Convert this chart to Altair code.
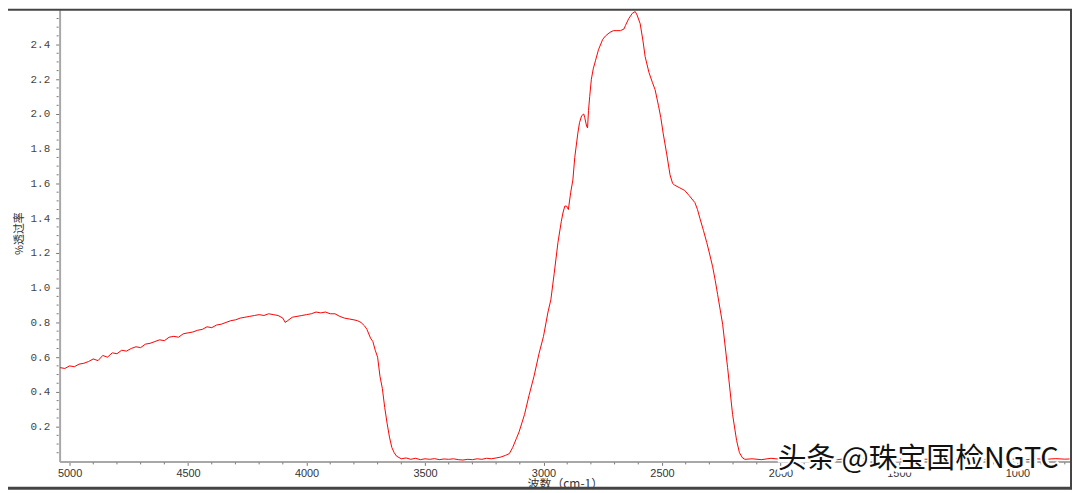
import altair as alt
import pandas as pd

# ---- data ----
wavenumber = [
    5040, 5020, 5000, 4980, 4960, 4940, 4920, 4900, 4880, 4860, 4840, 4820, 4800, 4780,
    4760, 4740, 4720, 4700, 4680, 4660, 4640, 4620, 4600, 4580, 4560, 4540, 4520, 4500,
    4480, 4460, 4440, 4420, 4400, 4380, 4360, 4340, 4320, 4300, 4280, 4260, 4240, 4220,
    4200, 4180, 4160, 4140, 4120, 4100, 4090, 4080, 4060, 4040, 4020, 4000, 3980, 3960,
    3940, 3920, 3900, 3880, 3860, 3840, 3820, 3800, 3785, 3770, 3755, 3745, 3730, 3720,
    3710, 3700, 3690, 3680, 3670, 3660, 3650, 3640, 3630, 3620, 3600,
    3580, 3560, 3540, 3520, 3500, 3480, 3460, 3440, 3420, 3400, 3380, 3360, 3340, 3320,
    3300, 3280, 3260, 3240, 3220, 3200, 3180, 3160, 3144,
    3130, 3115, 3103, 3080, 3061, 3040, 3019, 3000, 2981, 2969, 2955, 2939, 2925, 2918,
    2910, 2903, 2895, 2885, 2876, 2868, 2855, 2848, 2839, 2830, 2826, 2818, 2814, 2810,
    2805, 2798, 2790, 2780, 2768, 2750, 2738, 2720, 2705, 2690, 2675, 2660, 2654, 2640,
    2625, 2613, 2605, 2592, 2580, 2571, 2555, 2540, 2529, 2515, 2505, 2495, 2480, 2466,
    2455, 2446, 2425, 2404, 2385, 2361, 2350, 2340, 2325, 2311, 2300, 2286, 2275, 2265,
    2244, 2223, 2202, 2185, 2173, 2160, 2150,
    2120, 2080, 2040, 2000, 1960, 1920, 1880, 1840, 1800, 1760, 1720, 1680, 1640, 1600,
    1560, 1520, 1480, 1440, 1400, 1360, 1320, 1280, 1240, 1200, 1160, 1120, 1080, 1040,
    1000, 960, 920, 880, 840, 800, 780,
]
transmittance = [
    0.54, 0.535, 0.55, 0.545, 0.56, 0.565, 0.575, 0.59, 0.58, 0.61, 0.60, 0.625, 0.62, 0.64,
    0.635, 0.65, 0.66, 0.655, 0.675, 0.68, 0.69, 0.70, 0.695, 0.715, 0.72, 0.715, 0.735, 0.74,
    0.745, 0.755, 0.76, 0.775, 0.77, 0.785, 0.79, 0.80, 0.81, 0.815, 0.825, 0.83, 0.835, 0.84,
    0.845, 0.84, 0.85, 0.845, 0.84, 0.825, 0.80, 0.81, 0.83, 0.835, 0.84, 0.845, 0.85, 0.86,
    0.855, 0.86, 0.85, 0.85, 0.835, 0.825, 0.82, 0.815, 0.81, 0.80, 0.78, 0.76, 0.71, 0.69,
    0.64, 0.60, 0.49, 0.42, 0.31, 0.22, 0.14, 0.08, 0.05, 0.03, 0.015,
    0.02, 0.012, 0.018, 0.01, 0.015, 0.012, 0.016, 0.01, 0.014, 0.012, 0.015, 0.01, 0.008, 0.012,
    0.01, 0.015, 0.012, 0.018, 0.015, 0.02, 0.025, 0.035, 0.045,
    0.08, 0.13, 0.17, 0.27, 0.38, 0.49, 0.62, 0.72, 0.86, 0.93, 1.08, 1.26, 1.38, 1.43,
    1.47, 1.47, 1.45, 1.55, 1.62, 1.75, 1.89, 1.95, 1.99, 2.00, 1.98, 1.93, 1.92, 2.02,
    2.10, 2.20, 2.26, 2.31, 2.37, 2.43, 2.45, 2.47, 2.48, 2.48, 2.48, 2.49, 2.51, 2.55,
    2.58, 2.59, 2.57, 2.52, 2.42, 2.33, 2.24, 2.18, 2.14, 2.05, 1.98, 1.89, 1.77, 1.65,
    1.60, 1.59, 1.575, 1.56, 1.53, 1.49, 1.45, 1.40, 1.33, 1.26, 1.20, 1.12, 1.04, 0.96,
    0.79, 0.54, 0.27, 0.12, 0.05, 0.02, 0.012,
    0.015, 0.01, 0.018, 0.012, 0.015, 0.01, 0.017, 0.012, 0.015, 0.01, 0.016, 0.012, 0.018, 0.013,
    0.015, 0.01, 0.016, 0.012, 0.014, 0.01, 0.015, 0.012, 0.017, 0.013, 0.015, 0.01, 0.016, 0.012,
    0.014, 0.01, 0.015, 0.012, 0.016, 0.013, 0.014,
]

x_major = [5000, 4500, 4000, 3500, 3000, 2500, 2000, 1500, 1000]
x_minor = [v for v in range(4900, 799, -100) if v % 500 != 0]
y_major = [0.2, 0.4, 0.6, 0.8, 1.0, 1.2, 1.4, 1.6, 1.8, 2.0, 2.2, 2.4]
y_minor = [round(0.05 * i, 2) for i in range(1, 52) if i % 4 != 0]

watermark = ["头条 @珠宝国检NGTC"]

df = pd.DataFrame({"wn": wavenumber, "t": transmittance})

W, H = 1018, 455
x_scale = alt.Scale(domain=[778, 5042], reverse=True, nice=False, zero=False)
y_scale = alt.Scale(domain=[0, 2.6], nice=False, zero=False)

line = alt.Chart(df).mark_line(color="#ff0000", strokeWidth=1, clip=True).encode(
    x=alt.X(
        "wn:Q",
        scale=x_scale,
        axis=alt.Axis(
            values=x_major,
            format="d",
            title="波数（cm-1）",
            titleFont="Noto Sans CJK SC",
            titleFontSize=12,
            titleFontWeight="normal",
            titleColor="#333333",
            titleY=22,
            titleBaseline="middle",
            labelFont="Liberation Sans",
            labelFontSize=11,
            labelColor="#333333",
            labelPadding=2,
            tickSize=4,
            tickColor="#777777",
            domainColor="#a8a8a8",
            domainWidth=2,
            grid=False,
            labelFlush=False,
        ),
    ),
    y=alt.Y(
        "t:Q",
        scale=y_scale,
        axis=alt.Axis(
            values=y_major,
            format=".1f",
            title="%透过率",
            titleFont="Noto Sans CJK SC",
            titleFontSize=11,
            titleFontWeight="normal",
            titleColor="#333333",
            titleX=-40,
            titleY=225,
            titleAlign="center",
            titleBaseline="middle",
            labelFont="Liberation Mono",
            labelFontSize=11,
            labelColor="#444444",
            labelPadding=6,
            tickSize=4,
            tickColor="#777777",
            domainColor="#a8a8a8",
            domainWidth=2,
            grid=False,
        ),
    ),
)

xminor_df = pd.DataFrame({"wn": x_minor})
xminor = alt.Chart(xminor_df).mark_rule(color="#777777", strokeWidth=1).encode(
    x=alt.X("wn:Q", scale=x_scale),
    y=alt.value(H + 1),
    y2=alt.value(H + 3),
)

yminor_df = pd.DataFrame({"t": y_minor})
yminor = alt.Chart(yminor_df).mark_rule(color="#777777", strokeWidth=1).encode(
    y=alt.Y("t:Q", scale=y_scale),
    x=alt.value(-3),
    x2=alt.value(-1),
)

wm_df = pd.DataFrame({"label": watermark})
wm_halo = alt.Chart(wm_df).mark_text(
    font="Noto Sans CJK SC", fontSize=29, align="center", baseline="middle",
    color="white", stroke="white", strokeWidth=5,
).encode(x=alt.value(866), y=alt.value(454), text="label:N")
wm_text = alt.Chart(wm_df).mark_text(
    font="Noto Sans CJK SC", fontSize=29, align="center", baseline="middle",
    color="#111111",
).encode(x=alt.value(865), y=alt.value(453), text="label:N")

# screenshot border (top, right, bottom)
border_top = alt.Chart(wm_df).mark_rule(color="#444444", strokeWidth=2).encode(
    x=alt.value(-52), x2=alt.value(W + 2), y=alt.value(0)
)
border_right = alt.Chart(wm_df).mark_rule(color="#444444", strokeWidth=2).encode(
    x=alt.value(W + 1), y=alt.value(0), y2=alt.value(H + 28)
)
border_bottom = alt.Chart(wm_df).mark_rule(color="#444444", strokeWidth=3).encode(
    x=alt.value(-52), x2=alt.value(W + 2), y=alt.value(H + 27)
)

chart = (
    alt.layer(line, xminor, yminor, wm_halo, wm_text, border_top, border_right, border_bottom)
    .properties(
        width=W,
        height=H,
        autosize=alt.AutoSizeParams(type="none"),
        padding={"left": 52, "top": 0, "right": 2, "bottom": 28},
        background="white",
    )
    .configure_view(stroke=None)
)

chart.save("out.html", embed_options={"renderer": "svg", "actions": False})
